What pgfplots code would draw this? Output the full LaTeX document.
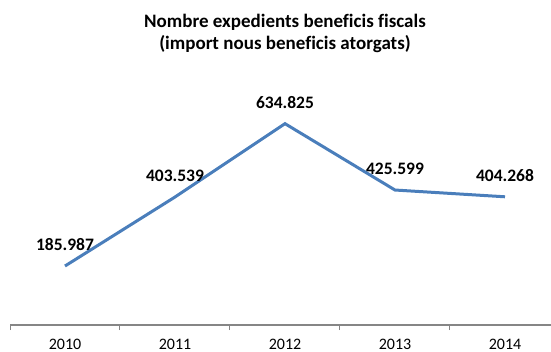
\documentclass[border=0pt]{standalone}
\usepackage{pgfplots}
\pgfplotsset{compat=1.18}
\usepackage{fontspec}
\setmainfont[Ligatures=NoCommon]{Carlito}
\definecolor{lineblue}{HTML}{4A7EBB}
\definecolor{axgray}{HTML}{868686}
\begin{document}
\begin{tikzpicture}
\useasboundingbox (-10bp,-27bp) rectangle (541bp,325bp);
\begin{axis}[
  at={(0,0)}, anchor=south west,
  scale only axis, width=550bp, height=222bp,
  xmin=-0.5, xmax=4.5, ymin=0, ymax=700,
  axis x line*=bottom, axis y line=none,
  axis line style={axgray, line width=1.5bp},
  xtick={0,1,2,3,4},
  xticklabels={2010,2011,2012,2013,2014},
  major tick length=0pt,
  extra x ticks={-0.5,0.5,1.5,2.5,3.5},
  extra x tick labels={},
  extra x tick style={major tick length=5bp, tick align=outside, tick style={axgray, line width=1bp}},
  xticklabel style={font=\fontsize{16bp}{19bp}\selectfont, inner sep=0pt, anchor=north, yshift=-13.5bp},
  point meta=explicit symbolic,
  nodes near coords,
  nodes near coords style={font=\fontsize{17.5bp}{21bp}\selectfont\bfseries, anchor=south, inner sep=0pt, yshift=14bp, text=black},
  clip=false,
]
\addplot[lineblue, line width=3bp, mark=none] coordinates {
  (0,185.987) [185.987]
  (1,403.539) [403.539]
  (2,634.825) [634.825]
  (3,425.599) [425.599]
  (4,404.268) [404.268]
};
\end{axis}
\node[anchor=base, font=\fontsize{19bp}{22bp}\selectfont\bfseries, inner sep=0pt] at (275bp,297bp) {Nombre expedients beneficis fiscals};
\node[anchor=base, font=\fontsize{19bp}{22bp}\selectfont\bfseries, inner sep=0pt] at (275bp,275bp) {(import nous beneficis atorgats)};
\end{tikzpicture}
\end{document}
